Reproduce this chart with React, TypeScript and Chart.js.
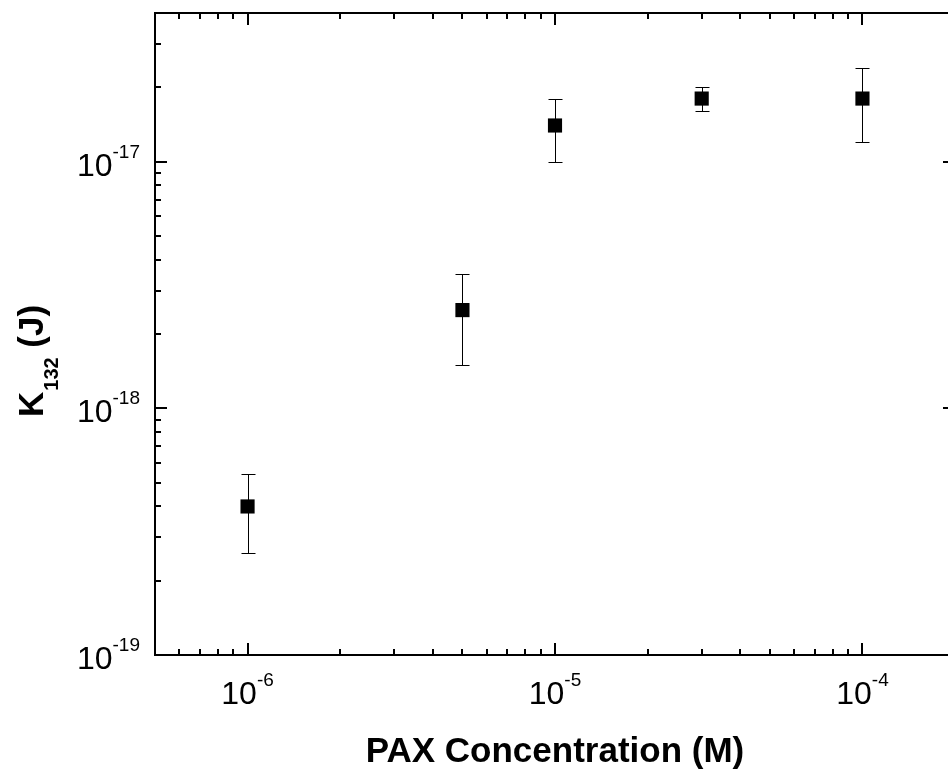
import React, { useEffect, useRef } from "react";
import { Chart, registerables } from "chart.js";

Chart.register(...registerables);

// ---- data ----
const concentrations = [1e-6, 5e-6, 1e-5, 3e-5, 1e-4];
const k132 = [4.0e-19, 2.5e-18, 1.4e-17, 1.8e-17, 1.8e-17];
const k132Upper = [5.4e-19, 3.5e-18, 1.8e-17, 2.0e-17, 2.4e-17];
const k132Lower = [2.6e-19, 1.5e-18, 1.0e-17, 1.6e-17, 1.2e-17];

// ---- axes ----
const xMin = 5e-7;
const xMax = 2e-4;
const yMin = 1e-19;
const yMax = 4e-17;
const xTickValues = [1e-6, 1e-5, 1e-4];
const xTickExponents = ["-6", "-5", "-4"];
const yTickValues = [1e-19, 1e-18, 1e-17];
const yTickExponents = ["-19", "-18", "-17"];
const xTitle = "PAX Concentration (M)";
const yTitleMain = "K";
const yTitleSub = "132";
const yTitleTail = " (J)";

const FONT = '"Liberation Sans", Arial, Helvetica, sans-serif';

function logTicks(min: number, max: number) {
  const out: { v: number; major: boolean }[] = [];
  const d0 = Math.floor(Math.log10(min)) - 1;
  const d1 = Math.ceil(Math.log10(max)) + 1;
  for (let d = d0; d <= d1; d++) {
    for (let m = 1; m <= 9; m++) {
      const v = m * Math.pow(10, d);
      if (v >= min * 0.9999 && v <= max * 1.0001) out.push({ v, major: m === 1 });
    }
  }
  return out;
}

const axesPlugin = {
  id: "originAxes",
  beforeDatasetsDraw(chart: any) {
    const ctx = chart.ctx as CanvasRenderingContext2D;
    const xs = chart.scales.x;
    const ys = chart.scales.y;
    ctx.save();
    ctx.strokeStyle = "#000";
    ctx.lineWidth = 1;
    concentrations.forEach((c, i) => {
      const px = Math.round(xs.getPixelForValue(c)) + 0.5;
      const pt = Math.round(ys.getPixelForValue(k132Upper[i])) + 0.5;
      const pb = Math.round(ys.getPixelForValue(k132Lower[i])) + 0.5;
      ctx.beginPath();
      ctx.moveTo(px, pt);
      ctx.lineTo(px, pb);
      ctx.moveTo(px - 7, pt);
      ctx.lineTo(px + 7, pt);
      ctx.moveTo(px - 7, pb);
      ctx.lineTo(px + 7, pb);
      ctx.stroke();
    });
    ctx.restore();
  },
  afterDatasetsDraw(chart: any) {
    const ctx = chart.ctx as CanvasRenderingContext2D;
    const { left, right, top, bottom } = chart.chartArea;
    const xs = chart.scales.x;
    const ys = chart.scales.y;
    ctx.save();
    ctx.strokeStyle = "#000";
    ctx.lineWidth = 2;
    ctx.lineCap = "butt";
    // frame
    ctx.strokeRect(left, top, right - left, bottom - top);
    // ticks (inward, all four sides)
    const MAJ = 12;
    const MIN = 6;
    ctx.beginPath();
    logTicks(xMin, xMax).forEach(({ v, major }) => {
      const px = Math.round(xs.getPixelForValue(v));
      const len = major ? MAJ : MIN;
      ctx.moveTo(px, bottom);
      ctx.lineTo(px, bottom - len);
      ctx.moveTo(px, top);
      ctx.lineTo(px, top + len);
    });
    logTicks(yMin, yMax).forEach(({ v, major }) => {
      const py = Math.round(ys.getPixelForValue(v));
      const len = major ? MAJ : MIN;
      ctx.moveTo(left, py);
      ctx.lineTo(left + len, py);
      ctx.moveTo(right, py);
      ctx.lineTo(right - len, py);
    });
    ctx.stroke();

    // tick labels
    ctx.fillStyle = "#000";
    ctx.textBaseline = "alphabetic";
    ctx.textAlign = "left";
    const baseFont = `32px ${FONT}`;
    const supFont = `19px ${FONT}`;
    xTickValues.forEach((v, i) => {
      const px = xs.getPixelForValue(v);
      ctx.font = baseFont;
      const wb = ctx.measureText("10").width;
      ctx.font = supFont;
      const ws = ctx.measureText(xTickExponents[i]).width;
      const x0 = px - (wb + ws) / 2;
      const by = bottom + 49;
      ctx.font = baseFont;
      ctx.fillText("10", x0, by);
      ctx.font = supFont;
      ctx.fillText(xTickExponents[i], x0 + wb, by - 18);
    });
    yTickValues.forEach((v, i) => {
      const py = ys.getPixelForValue(v);
      ctx.font = baseFont;
      const wb = ctx.measureText("10").width;
      ctx.font = supFont;
      const ws = ctx.measureText(yTickExponents[i]).width;
      const x0 = left - 15 - (wb + ws);
      const by = py + 14;
      ctx.font = baseFont;
      ctx.fillText("10", x0, by);
      ctx.font = supFont;
      ctx.fillText(yTickExponents[i], x0 + wb, by - 18);
    });

    // x title
    ctx.font = `bold 35px ${FONT}`;
    ctx.textAlign = "center";
    ctx.fillText(xTitle, (left + right) / 2, bottom + 107);

    // y title (rotated, with subscript)
    ctx.textAlign = "left";
    ctx.translate(43, 417);
    ctx.rotate(-Math.PI / 2);
    ctx.font = `bold 35px ${FONT}`;
    ctx.fillText(yTitleMain, 0, 0);
    let xOff = ctx.measureText(yTitleMain).width + 1;
    ctx.font = `bold 20px ${FONT}`;
    ctx.fillText(yTitleSub, xOff, 15);
    xOff += ctx.measureText(yTitleSub).width;
    ctx.font = `bold 35px ${FONT}`;
    ctx.fillText(yTitleTail, xOff, 0);
    ctx.restore();
  },
};

export default function App() {
  const ref = useRef<HTMLCanvasElement | null>(null);
  useEffect(() => {
    if (!ref.current) return;
    const chart = new Chart(ref.current, {
      type: "scatter",
      data: {
        datasets: [
          {
            label: "K132",
            data: concentrations.map((c, i) => ({ x: c, y: k132[i] })),
            pointStyle: "rect",
            pointRadius: 10,
            pointHoverRadius: 10,
            backgroundColor: "#000",
            borderColor: "#000",
            borderWidth: 0,
            showLine: false,
          },
        ],
      },
      options: {
        responsive: false,
        animation: false,
        devicePixelRatio: 1,
        events: [],
        layout: { padding: { left: 155, right: 15, top: 13, bottom: 119 } },
        plugins: { legend: { display: false }, tooltip: { enabled: false } },
        scales: {
          x: { type: "logarithmic", min: xMin, max: xMax, display: false },
          y: { type: "logarithmic", min: yMin, max: yMax, display: false },
        },
      },
      plugins: [axesPlugin],
    });
    return () => chart.destroy();
  }, []);
  return (
    <div
      style={{
        position: "fixed",
        left: 0,
        top: 0,
        width: 948,
        height: 774,
        overflow: "hidden",
        background: "#fff",
      }}
    >
      <canvas ref={ref} width={970} height={774} style={{ width: 970, height: 774, display: "block" }} />
    </div>
  );
}
